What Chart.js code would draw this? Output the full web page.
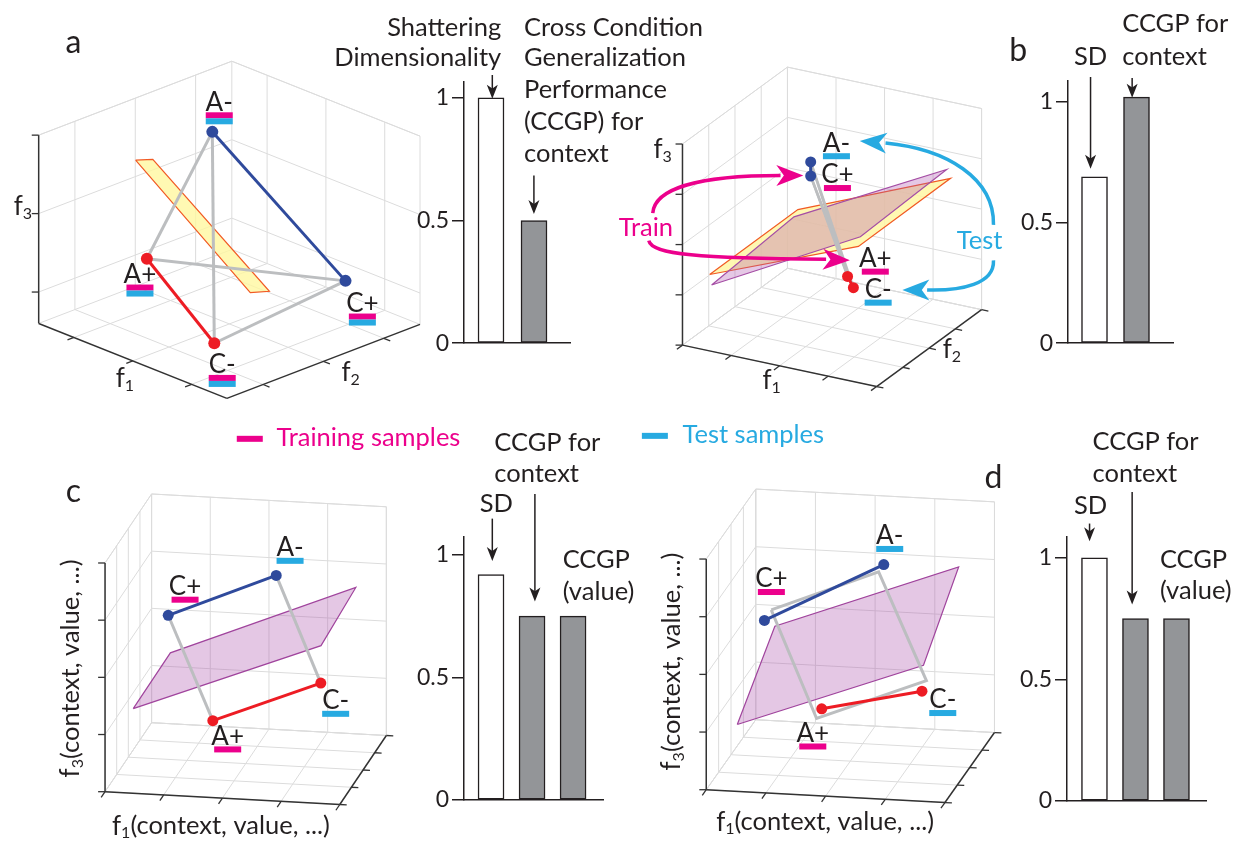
<!DOCTYPE html>
<html>
<head>
<meta charset="utf-8">
<title>Shattering dimensionality and CCGP</title>
<script src="https://cdn.jsdelivr.net/npm/chart.js@4.4.1/dist/chart.umd.min.js"></script>
<style>
  body { margin: 0; background: #fff; }
  #fig { position: relative; width: 1257px; height: 846px; overflow: hidden; }
  #fig canvas { position: absolute; }
</style>
</head>
<body>
<div id="fig">
  <canvas id="scene" width="1257" height="846" style="left:0;top:0"></canvas>
  <canvas id="barA" width="180" height="300" style="left:400px;top:60px"></canvas>
  <canvas id="barB" width="180" height="300" style="left:1000px;top:60px"></canvas>
  <canvas id="barC" width="220" height="300" style="left:400px;top:520px"></canvas>
  <canvas id="barD" width="230" height="300" style="left:1000px;top:520px"></canvas>
</div>
<script>
// ---------- data ----------
const conditions = ['A+', 'A-', 'C+', 'C-'];
// position of each condition inside its 3D box (0..1 along f1, f2, f3), same order as conditions
const condA = [[0.38, 0.19, 0.42], [0.43, 0.48, 1.00], [0.83, 0.78, 0.25], [0.81, 0.12, 0.17]];
const condB = [[0.58, 0.50, 0.27], [0.39, 0.50, 0.80], [0.39, 0.50, 0.73], [0.61, 0.50, 0.22]];
const condC = [[0.36, 0.50, 0.18], [0.63, 0.50, 0.83], [0.17, 0.50, 0.63], [0.82, 0.50, 0.37]];
const condD = [[0.38, 0.50, 0.22], [0.64, 0.50, 0.86], [0.14, 0.50, 0.59], [0.80, 0.50, 0.32]];
// decoder planes (corners, box units)
const planeA = [[0.32, 0.19, 0.92], [0.36, 0.24, 0.92], [0.60, 0.61, 0.17], [0.56, 0.55, 0.17]];
const planeB1 = [[0.14, 0, 0.38], [0.27, 0.6, 0.50], [0.84, 1, 0.62], [0.69, 0.4, 0.48]];
const planeB2 = [[0.15, 0, 0.33], [0.25, 0.6, 0.46], [0.82, 1, 0.66], [0.70, 0.4, 0.53]];
const planeC = [[0.12, 0, 0.37], [0.08, 1, 0.31], [0.87, 1, 0.64], [0.92, 0, 0.69]];
const planeD = [[0.13, 0, 0.29], [0.08, 1, 0.41], [0.85, 1, 0.71], [0.91, 0, 0.59]];
const squareD = [[0.21, 0.3, 0.70], [0.66, 0.3, 0.89], [0.86, 0.3, 0.43], [0.40, 0.3, 0.24]];
// grid ticks of the 3D boxes (box units)
const ticksA = [0.1875, 0.5, 0.8125];
const ticksAz = [0.1667, 0.5833, 1];
const ticksQ = [0, 0.25, 0.5, 0.75, 1];
// bar panels
const barNames2 = ['SD', 'CCGP context'];
const barNames3 = ['SD', 'CCGP context', 'CCGP value'];
const barsA = [1.0, 0.5];
const barsB = [0.69, 1.02];
const barsC = [0.92, 0.75, 0.75];
const barsD = [1.0, 0.75, 0.75];
const barTicks = [0, 0.5, 1];
const barTickLabels = ['0', '0.5', '1'];

// ---------- style ----------
const FONT = 'Lato, "Open Sans", sans-serif';
const TXT = 25.5;
const INK = '#231f20';
const MAG = '#ec008c';
const CYN = '#27aae1';
const RED = '#ed1c24';
const BLUE = '#2f4a9c';
const GRAY = '#bcbec0';
const GRID = '#dcdcdc';
Chart.defaults.font.family = FONT;

// screen projection of each box: origin + one vector per axis (page px)
const views = {
  a: { o: [33, 322], ex: [190, 76], ey: [195, -75], ez: [0, -191] },
  b: { o: [683, 344], ex: [196, 42], ey: [106, -78], ez: [0, -204] },
  c: { o: [100, 797], ex: [237, 13], ey: [47, -70], ez: [0, -232] },
  d: { o: [707, 795], ex: [241, 13], ey: [50, -71], ez: [0, -234] }
};
function proj(v, p) {
  return {
    x: v.o[0] + p[0] * v.ex[0] + p[1] * v.ey[0] + p[2] * v.ez[0],
    y: v.o[1] + p[0] * v.ex[1] + p[1] * v.ey[1] + p[2] * v.ez[1]
  };
}
function unit(vec, s) {
  const n = Math.hypot(vec[0], vec[1]);
  return [s * vec[0] / n, s * vec[1] / n];
}
const condColor = [RED, BLUE, BLUE, RED];

const panels = [
  { view: views.a, cond: condA, uv: ticksA, w: ticksAz, r: 6,
    gray: [[1, 0], [1, 3], [0, 2], [2, 3]], grayW: 3, blue: [[1, 2]], red: [[0, 3]],
    planes: [[planeA, 'rgba(255,247,160,0.8)', '#f15a24', 12]],
    labels: [{ i: 0, dx: -7, dy: 16, bars: [MAG, CYN] }, { i: 1, dx: 7, dy: -30, bars: [MAG, CYN] },
             { i: 2, dx: 17, dy: 23, bars: [MAG, CYN] }, { i: 3, dx: 8, dy: 22, bars: [MAG, CYN] }] },
  { view: views.b, cond: condB, uv: ticksQ, w: ticksQ, r: 5.5,
    gray: [[1, 0], [1, 3], [0, 2], [2, 3]], grayW: 2.5, blue: [[1, 2]], red: [[0, 3]],
    planes: [[planeB1, 'rgba(255,247,165,0.85)', '#f15a24', 13], [planeB2, 'rgba(175,85,175,0.32)', '#a54ea5', 12]],
    labels: [{ i: 0, dx: 28, dy: -18, bars: [MAG] }, { i: 1, dx: 26, dy: -19, bars: [CYN] },
             { i: 2, dx: 27, dy: -1, bars: [MAG] }, { i: 3, dx: 25, dy: 2, bars: [CYN] }] },
  { view: views.c, cond: condC, uv: ticksQ, w: ticksQ, r: 5.5,
    gray: [[2, 0], [1, 3]], grayW: 3, blue: [[2, 1]], red: [[0, 3]],
    planes: [[planeC, 'rgba(170,80,170,0.32)', '#a0449d', 12]],
    labels: [{ i: 0, dx: 15, dy: 16, bars: [MAG] }, { i: 1, dx: 14, dy: -28, bars: [CYN] },
             { i: 2, dx: 17, dy: -29, bars: [MAG] }, { i: 3, dx: 15, dy: 18, bars: [CYN] }] },
  { view: views.d, cond: condD, uv: ticksQ, w: ticksQ, r: 5.5,
    gray: [], grayW: 3, blue: [[2, 1]], red: [[0, 3]], square: squareD,
    planes: [[planeD, 'rgba(170,80,170,0.32)', '#a0449d', 12]],
    labels: [{ i: 0, dx: -9, dy: 25, bars: [MAG] }, { i: 1, dx: 6, dy: -29, bars: [CYN] },
             { i: 2, dx: 7, dy: -42, bars: [MAG] }, { i: 3, dx: 21, dy: 9, bars: [CYN] }] }
];

// ---------- scene datasets ----------
const sceneSets = [];
function addLine(pts, color, width, order) {
  sceneSets.push({ data: pts, showLine: true, borderColor: color, borderWidth: width,
    pointRadius: 0, pointHoverRadius: 0, fill: false, order: order });
}
function add3D(v, pts, color, width, order) {
  addLine(pts.map(p => proj(v, p)), color, width, order);
}
function addTick(v, p, dir) {
  const a = proj(v, p);
  addLine([a, { x: a.x + dir[0], y: a.y + dir[1] }], '#333', 1.3, 25);
}

panels.forEach(pn => {
  const v = pn.view;
  // back walls and floor
  pn.uv.forEach(t => add3D(v, [[0, t, 0], [0, t, 1]], GRID, 1, 30));
  pn.w.forEach(t => add3D(v, [[0, 0, t], [0, 1, t]], GRID, 1, 30));
  pn.uv.forEach(t => add3D(v, [[t, 1, 0], [t, 1, 1]], GRID, 1, 30));
  pn.w.forEach(t => add3D(v, [[0, 1, t], [1, 1, t]], GRID, 1, 30));
  pn.uv.forEach(t => add3D(v, [[t, 0, 0], [t, 1, 0]], GRID, 1, 30));
  pn.uv.forEach(t => add3D(v, [[0, t, 0], [1, t, 0]], GRID, 1, 30));
  [[[0, 1, 0], [0, 1, 1]], [[1, 1, 0], [1, 1, 1]], [[0, 0, 1], [0, 1, 1]],
   [[0, 1, 1], [1, 1, 1]], [[0, 0, 0], [0, 1, 0]], [[0, 1, 0], [1, 1, 0]]]
    .forEach(s => add3D(v, s, GRID, 1, 30));
  // axes
  add3D(v, [[0, 0, 0], [0, 0, 1]], '#333', 1.5, 25);
  add3D(v, [[0, 0, 0], [1, 0, 0]], '#333', 1.5, 25);
  add3D(v, [[1, 0, 0], [1, 1, 0]], '#333', 1.5, 25);
  pn.w.forEach(t => addTick(v, [0, 0, t], [-7, 0]));
  pn.uv.forEach(t => addTick(v, [t, 0, 0], unit([-v.ey[0], -v.ey[1]], 7)));
  pn.uv.forEach(t => addTick(v, [1, t, 0], unit(v.ex, 7)));
  // planes
  pn.planes.forEach(([pl, fillC, lineC, ord]) => {
    sceneSets.push({ data: pl.concat([pl[0]]).map(p => proj(v, p)), showLine: true,
      borderColor: lineC, borderWidth: 1.2, backgroundColor: fillC, fill: 'shape',
      pointRadius: 0, pointHoverRadius: 0, order: ord });
  });
  // edges between conditions
  pn.gray.forEach(([i, j]) => add3D(v, [pn.cond[i], pn.cond[j]], GRAY, pn.grayW, 10));
  if (pn.square) add3D(v, pn.square.concat([pn.square[0]]), GRAY, 3, 10);
  pn.blue.forEach(([i, j]) => add3D(v, [pn.cond[i], pn.cond[j]], BLUE, 3, 5));
  pn.red.forEach(([i, j]) => add3D(v, [pn.cond[i], pn.cond[j]], RED, 3, 5));
  // conditions
  sceneSets.push({ data: pn.cond.map(p => proj(v, p)), showLine: false, pointRadius: pn.r,
    pointHoverRadius: pn.r, pointBackgroundColor: condColor, pointBorderWidth: 0, order: 1 });
});

// ---------- text and arrows (page px) ----------
const texts = [
  { t: 'a', x: 68, y: 37, size: 32, align: 'center' },
  { t: 'b', x: 1022, y: 45, size: 32, align: 'center' },
  { t: 'c', x: 68, y: 493, size: 32, align: 'center' },
  { t: 'd', x: 997, y: 478, size: 32, align: 'center' },
  { t: 'Shattering', x: 500, y: 22, align: 'right' },
  { t: 'Dimensionality', x: 500, y: 53, align: 'right' },
  { t: 'Cross Condition', x: 523, y: 22, align: 'left' },
  { t: 'Generalization', x: 523, y: 53, align: 'left' },
  { t: 'Performance', x: 523, y: 85, align: 'left' },
  { t: '(CCGP) for', x: 523, y: 117, align: 'left' },
  { t: 'context', x: 523, y: 150, align: 'left' },
  { t: 'SD', x: 1095, y: 52, align: 'center' },
  { t: 'CCGP for', x: 1127, y: 18, align: 'left' },
  { t: 'context', x: 1127, y: 52, align: 'left' },
  { t: 'CCGP for', x: 493, y: 443, align: 'left' },
  { t: 'context', x: 493, y: 475, align: 'left' },
  { t: 'SD', x: 495, y: 505, align: 'center' },
  { t: 'CCGP', x: 562, y: 562, align: 'left' },
  { t: '(value)', x: 562, y: 594, align: 'left' },
  { t: 'CCGP for', x: 1097, y: 442, align: 'left' },
  { t: 'context', x: 1097, y: 475, align: 'left' },
  { t: 'SD', x: 1095, y: 507, align: 'center' },
  { t: 'CCGP', x: 1165, y: 562, align: 'left' },
  { t: '(value)', x: 1165, y: 593, align: 'left' },
  { t: 'Training samples', x: 273, y: 438, align: 'left', color: MAG },
  { t: 'Test samples', x: 683, y: 435, align: 'left', color: CYN },
  { t: 'Train', x: 646, y: 225, align: 'center', color: MAG },
  { t: 'Test', x: 983, y: 238, align: 'center', color: CYN }
];
const legendBars = [[233, 436, MAG], [642, 433, CYN]];
const straightArrows = [[491, 70, 94], [533, 172, 211], [1095, 72, 165], [1137, 73, 93],
                        [491, 520, 563], [534, 495, 604], [1094, 525, 543], [1137, 493, 607]];
const curvedArrows = [
  { c: MAG, p: [[653, 210], [655, 185], [700, 172], [782, 172]], tip: [805, 172] },
  { c: MAG, p: [[649, 238], [652, 252], [700, 256], [828, 257]], tip: [852, 258] },
  { c: CYN, p: [[997, 222], [998, 175], [950, 145], [888, 139]], tip: [862, 137] },
  { c: CYN, p: [[997, 258], [998, 282], [965, 289], [930, 288]], tip: [905, 288] }
];
const F = (n) => [{ t: 'f', s: 26, dy: 0 }, { t: n, s: 16, dy: 7 }];
const axisLabels = [
  { parts: F('3'), x: 17, y: 204 }, { parts: F('1'), x: 120, y: 378 }, { parts: F('2'), x: 348, y: 372 },
  { parts: F('3'), x: 663, y: 146 }, { parts: F('1'), x: 773, y: 380 }, { parts: F('2'), x: 955, y: 349 },
  { parts: F('1').concat([{ t: '(context, value, ...)', s: 25.5, dy: 0 }]), x: 217, y: 832 },
  { parts: F('3').concat([{ t: '(context, value, ...)', s: 25.5, dy: 0 }]), x: 65, y: 672, rot: true },
  { parts: F('1').concat([{ t: '(context, value, ...)', s: 25.5, dy: 0 }]), x: 827, y: 828 },
  { parts: F('3').concat([{ t: '(context, value, ...)', s: 25.5, dy: 0 }]), x: 672, y: 665, rot: true }
];

function drawRich(ctx, parts, x, y) {
  let w = 0;
  parts.forEach(p => { ctx.font = p.s + 'px ' + FONT; w += ctx.measureText(p.t).width; });
  let cx = x - w / 2;
  ctx.textAlign = 'left';
  parts.forEach(p => {
    ctx.font = p.s + 'px ' + FONT;
    ctx.fillText(p.t, cx, y + p.dy);
    cx += ctx.measureText(p.t).width;
  });
}
function head(ctx, tx, ty, ang, len, half, color) {
  ctx.save();
  ctx.translate(tx, ty);
  ctx.rotate(ang);
  ctx.beginPath();
  ctx.moveTo(0, 0);
  ctx.lineTo(-len, -half);
  ctx.lineTo(-len * 0.72, 0);
  ctx.lineTo(-len, half);
  ctx.closePath();
  ctx.fillStyle = color;
  ctx.fill();
  ctx.restore();
}

const scenePlugin = {
  id: 'sceneText',
  afterDatasetsDraw(chart) {
    const ctx = chart.ctx;
    const X = v => chart.scales.x.getPixelForValue(v);
    const Y = v => chart.scales.y.getPixelForValue(v);
    ctx.save();
    ctx.textBaseline = 'middle';
    // condition labels with training / test markers
    panels.forEach(pn => {
      pn.labels.forEach(l => {
        const p = proj(pn.view, pn.cond[l.i]);
        const tx = X(p.x + l.dx), ty = Y(p.y + l.dy);
        ctx.font = '26px ' + FONT;
        ctx.fillStyle = INK;
        ctx.textAlign = 'center';
        ctx.fillText(conditions[l.i], tx, ty);
        l.bars.forEach((c, k) => {
          ctx.fillStyle = c;
          ctx.fillRect(tx - 13.5, ty + 10 + k * 6, 27, 6);
        });
      });
    });
    // free text
    texts.forEach(t => {
      ctx.font = (t.size || TXT) + 'px ' + FONT;
      ctx.fillStyle = t.color || INK;
      ctx.textAlign = t.align;
      ctx.fillText(t.t, X(t.x), Y(t.y));
    });
    legendBars.forEach(([x, y, c]) => { ctx.fillStyle = c; ctx.fillRect(X(x), Y(y), 26, 6); });
    // axis labels
    ctx.fillStyle = INK;
    axisLabels.forEach(a => {
      if (a.rot) {
        ctx.save();
        ctx.translate(X(a.x), Y(a.y));
        ctx.rotate(-Math.PI / 2);
        drawRich(ctx, a.parts, 0, 0);
        ctx.restore();
      } else {
        drawRich(ctx, a.parts, X(a.x), Y(a.y));
      }
    });
    // arrows pointing at the bars
    ctx.strokeStyle = INK;
    ctx.lineWidth = 1.5;
    straightArrows.forEach(([x, y1, y2]) => {
      ctx.beginPath();
      ctx.moveTo(X(x), Y(y1));
      ctx.lineTo(X(x), Y(y2) - 8);
      ctx.stroke();
      head(ctx, X(x), Y(y2), Math.PI / 2, 14, 5.5, INK);
    });
    // train / test arcs
    curvedArrows.forEach(a => {
      ctx.strokeStyle = a.c;
      ctx.lineWidth = 3.5;
      ctx.beginPath();
      ctx.moveTo(X(a.p[0][0]), Y(a.p[0][1]));
      ctx.bezierCurveTo(X(a.p[1][0]), Y(a.p[1][1]), X(a.p[2][0]), Y(a.p[2][1]), X(a.p[3][0]), Y(a.p[3][1]));
      ctx.stroke();
      const ang = Math.atan2(a.tip[1] - a.p[3][1], a.tip[0] - a.p[3][0]);
      head(ctx, X(a.tip[0]), Y(a.tip[1]), ang, 27, 10.5, a.c);
    });
    ctx.restore();
  }
};

new Chart(document.getElementById('scene'), {
  type: 'scatter',
  data: { datasets: sceneSets },
  options: {
    responsive: false,
    animation: false,
    layout: { padding: 0 },
    elements: { line: { tension: 0 } },
    plugins: { legend: { display: false }, tooltip: { enabled: false } },
    scales: {
      x: { type: 'linear', min: 0, max: 1257, display: false },
      y: { type: 'linear', min: 0, max: 846, reverse: true, display: false }
    }
  },
  plugins: [scenePlugin]
});

// ---------- bar panels ----------
function makeBars(id, names, vals, o) {
  return new Chart(document.getElementById(id), {
    type: 'bar',
    data: {
      datasets: [{
        label: names.join(' / '),
        data: vals.map((v, i) => ({ x: i + 1, y: v })),
        backgroundColor: vals.map((v, i) => (i === 0 ? '#ffffff' : '#939598')),
        borderColor: INK,
        borderWidth: 1.5,
        borderSkipped: false,
        barThickness: 26
      }]
    },
    options: {
      responsive: false,
      animation: false,
      layout: { padding: { top: o.top, right: o.right, bottom: o.bottom, left: 0 } },
      plugins: { legend: { display: false }, tooltip: { enabled: false } },
      scales: {
        x: {
          type: 'linear', min: o.xmin, max: o.xmax, offset: false,
          grid: { display: false, offset: false },
          ticks: { display: false },
          border: { display: true, color: INK, width: 1.5 },
          afterFit: s => { s.height = 0; }
        },
        y: {
          min: 0, max: o.ymax,
          afterBuildTicks: s => { s.ticks = barTicks.map(v => ({ value: v })); },
          ticks: {
            callback: v => barTickLabels[barTicks.indexOf(v)],
            color: INK, font: { size: 23 }, padding: 3
          },
          grid: { drawOnChartArea: false, tickLength: 12, color: INK, lineWidth: 1.5 },
          border: { display: true, color: INK, width: 1.5 },
          afterFit: s => { s.width = o.yw; }
        }
      }
    }
  });
}
makeBars('barA', barNames2, barsA, { top: 22, right: 10, bottom: 15, yw: 64, ymax: 1.065, xmin: 0.372, xmax: 2.837 });
makeBars('barB', barNames2, barsB, { top: 21, right: 7, bottom: 16, yw: 68, ymax: 1.087, xmin: 0.369, xmax: 2.869 });
makeBars('barC', barNames3, barsC, { top: 17, right: 17, bottom: 20, yw: 64, ymax: 1.073, xmin: 0.341, xmax: 3.73 });
makeBars('barD', barNames3, barsD, { top: 16, right: 24, bottom: 19, yw: 67, ymax: 1.086, xmin: 0.33, xmax: 3.72 });
</script>
</body>
</html>
